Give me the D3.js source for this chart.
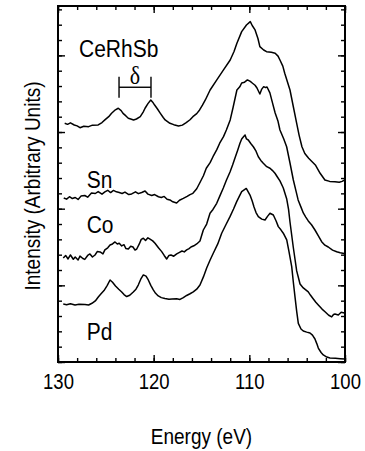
<!DOCTYPE html>
<html>
<head>
<meta charset="utf-8">
<script src="https://cdn.jsdelivr.net/npm/d3@7"></script>
<style>
  body { margin: 0; background: #fff; }
  text { font-family: "Liberation Sans", Arial, Helvetica, sans-serif; fill: #000; }
</style>
</head>
<body>
<div id="graph"></div>
<script>
// spectra: [energy (eV), intensity (arb.)]
const ceRhSb = [[129.3,15.57],[129.0,15.50],[128.7,15.60],[128.3,15.46],[128.0,15.40],[127.7,15.28],[127.3,15.38],[126.8,15.35],[126.4,15.45],[125.8,15.46],[125.4,15.62],[125.1,15.79],[124.7,16.00],[124.4,16.22],[124.0,16.45],[123.7,16.55],[123.4,16.40],[123.2,16.22],[122.9,16.05],[122.65,15.90],[122.4,15.85],[122.1,15.79],[121.8,15.85],[121.4,16.00],[121.1,16.30],[120.9,16.55],[120.6,16.85],[120.3,17.09],[120.1,16.95],[119.9,16.76],[119.6,16.50],[119.3,16.22],[119.0,15.95],[118.8,15.79],[118.3,15.57],[117.9,15.48],[117.4,15.39],[117.0,15.45],[116.6,15.61],[116.2,15.80],[115.9,16.00],[115.5,16.20],[115.2,16.44],[114.9,16.75],[114.6,17.09],[114.1,17.74],[113.4,18.40],[112.7,19.05],[112.0,19.70],[111.6,20.25],[111.3,20.79],[110.8,21.55],[110.3,21.98],[109.9,22.20],[109.7,21.95],[109.4,21.66],[109.1,21.10],[108.9,20.57],[108.5,20.35],[108.2,20.24],[107.7,20.20],[107.3,20.14],[107.0,19.95],[106.8,19.70],[106.5,19.30],[106.3,18.83],[105.75,17.74],[105.4,16.65],[105.05,15.57],[104.8,14.80],[104.5,14.04],[104.2,13.60],[103.8,13.29],[103.1,12.85],[102.6,12.31],[102.1,11.87],[101.6,11.78],[101.05,11.76],[100.6,11.72],[100.3,11.78],[100.07,11.87]];

const sn = [[129.4,10.70],[129.1,10.62],[128.8,10.78],[128.5,10.66],[128.2,10.73],[127.9,10.60],[127.6,10.82],[127.2,10.86],[126.9,10.75],[126.5,11.02],[126.1,10.99],[125.8,11.12],[125.4,10.95],[125.1,11.09],[124.8,11.20],[124.5,11.05],[124.2,11.19],[123.9,11.10],[123.6,11.05],[123.3,10.99],[123.0,11.08],[122.6,10.92],[122.3,10.96],[121.9,11.10],[121.6,10.98],[121.25,11.06],[120.9,11.15],[120.6,10.95],[120.2,10.86],[119.9,10.92],[119.5,10.78],[119.2,10.73],[118.9,10.80],[118.6,10.62],[118.3,10.57],[118.0,10.45],[117.6,10.37],[117.3,10.55],[116.9,10.67],[116.5,10.80],[116.2,10.92],[115.9,11.00],[115.5,11.30],[115.2,11.66],[114.8,12.15],[114.5,12.64],[114.1,13.00],[113.8,13.39],[113.4,13.85],[113.1,14.27],[112.7,14.70],[112.4,15.13],[112.0,15.79],[111.7,16.60],[111.3,17.74],[111.0,17.95],[110.8,18.20],[110.5,18.25],[110.2,18.40],[109.9,18.30],[109.7,18.20],[109.4,18.05],[109.2,17.87],[108.9,17.48],[108.7,17.80],[108.5,17.96],[108.3,17.90],[108.15,17.94],[107.85,17.55],[107.6,16.95],[107.3,16.24],[107.0,15.70],[106.8,15.13],[106.4,14.55],[106.1,14.04],[105.75,12.98],[105.4,11.87],[105.1,11.10],[104.9,10.57],[104.6,10.10],[104.36,9.72],[104.1,9.45],[103.84,9.20],[103.5,8.95],[103.14,8.61],[102.8,8.25],[102.44,7.85],[102.1,7.62],[101.75,7.50],[101.3,7.30],[100.87,7.19],[100.5,7.12],[100.1,7.08]];

const co = [[129.45,6.78],[129.2,6.95],[128.95,6.72],[128.7,6.98],[128.4,6.70],[128.2,6.85],[127.9,6.65],[127.7,6.91],[127.4,6.75],[127.2,6.69],[126.9,6.95],[126.66,7.05],[126.4,6.85],[126.13,6.98],[125.9,7.20],[125.6,7.18],[125.3,7.05],[125.1,7.31],[124.8,7.45],[124.56,7.63],[124.3,7.70],[124.04,7.83],[123.8,7.70],[123.6,7.75],[123.34,7.57],[123.1,7.65],[122.9,7.40],[122.65,7.37],[122.4,7.55],[122.16,7.50],[121.95,7.30],[121.77,7.37],[121.5,7.70],[121.3,8.00],[121.08,8.07],[120.85,7.92],[120.6,8.10],[120.38,8.02],[120.1,7.90],[119.86,7.74],[119.5,7.45],[119.16,7.20],[118.9,6.95],[118.64,6.72],[118.4,6.95],[118.19,6.98],[117.9,6.90],[117.59,7.05],[117.3,7.15],[117.04,7.24],[116.8,7.18],[116.55,7.31],[116.3,7.40],[116.1,7.50],[115.8,7.58],[115.5,7.70],[115.16,7.89],[114.81,8.61],[114.46,9.00],[114.11,9.70],[113.8,9.95],[113.41,10.35],[113.1,10.80],[112.72,11.35],[112.4,11.85],[112.02,12.39],[111.75,12.85],[111.5,13.31],[111.2,13.85],[110.98,14.27],[110.8,14.55],[110.63,14.68],[110.45,14.81],[110.3,14.55],[110.11,14.48],[109.85,14.25],[109.58,14.04],[109.3,13.75],[109.06,13.39],[108.8,13.15],[108.54,12.96],[108.18,12.74],[107.84,12.64],[107.6,12.50],[107.32,12.31],[107.05,12.05],[106.8,11.81],[106.45,11.35],[106.09,10.63],[105.9,9.95],[105.75,9.13],[105.41,7.50],[105.05,5.94],[104.7,5.09],[104.36,4.83],[104.1,4.70],[103.84,4.57],[103.6,4.35],[103.31,4.11],[103.05,3.90],[102.79,3.72],[102.4,3.45],[102.09,3.28],[101.7,3.05],[101.39,2.94],[101.2,3.10],[101.05,3.13],[100.7,3.07],[100.4,3.25],[100.07,3.20]];

const pd = [[129.45,3.78],[129.1,3.74],[128.7,3.80],[128.22,3.72],[127.8,3.76],[127.18,3.75],[126.8,3.72],[126.45,3.83],[126.1,3.98],[125.79,4.24],[125.5,4.45],[125.19,4.66],[124.85,5.00],[124.56,5.35],[124.3,5.20],[123.99,4.96],[123.65,4.75],[123.34,4.57],[123.1,4.40],[122.82,4.27],[122.5,4.35],[122.13,4.57],[121.85,4.75],[121.61,5.02],[121.35,5.40],[121.08,5.68],[120.8,5.60],[120.56,5.35],[120.3,5.00],[120.04,4.70],[119.8,4.48],[119.52,4.31],[119.2,4.20],[118.82,4.14],[118.4,4.10],[118.08,4.11],[117.6,4.12],[117.25,4.08],[116.9,4.20],[116.55,4.34],[116.2,4.45],[115.86,4.57],[115.5,4.75],[115.16,5.02],[114.8,5.55],[114.46,6.13],[114.1,6.65],[113.77,7.09],[113.3,7.70],[112.89,8.40],[112.45,8.95],[112.02,9.48],[111.65,9.98],[111.32,10.46],[111.05,10.80],[110.8,11.11],[110.32,11.32],[109.93,10.89],[109.7,10.50],[109.51,10.11],[109.3,9.75],[109.06,9.48],[108.7,9.32],[108.36,9.26],[108.1,9.50],[107.84,9.70],[107.49,9.59],[107.2,9.20],[106.97,8.83],[106.7,8.62],[106.45,8.40],[106.09,7.96],[105.85,7.18],[105.57,6.22],[105.4,5.20],[105.23,4.26],[105.05,3.30],[104.88,2.52],[104.6,2.15],[104.36,2.02],[104.0,1.95],[103.66,1.89],[103.4,1.75],[103.14,1.50],[102.95,1.20],[102.79,0.91],[102.5,0.62],[102.27,0.46],[101.9,0.32],[101.57,0.26],[101.0,0.24],[100.5,0.22],[100.0,0.20]];

const seriesNames = ["CeRhSb", "Sn", "Co", "Pd"];
const xTickLabels = [130, 120, 110, 100];
const deltaEnds = [123.62, 120.28];   // bracket between the two CeRhSb peaks

const margin = {top: 6, right: 20, bottom: 89, left: 58},
  width = 365 - margin.left - margin.right,
  height = 451 - margin.top - margin.bottom;
const stretch = "scale(1,1.15)";   // lettering in the scan is a bit taller than Arial

const svg = d3.select("#graph").append("svg")
  .attr("width", 365).attr("height", 451)
  .append("g").attr("transform", "translate(" + margin.left + "," + margin.top + ")");

const x = d3.scaleLinear().domain([130, 100]).range([0, width]);
const y = d3.scaleLinear().domain([0, 23.22]).range([height, 0]);

// ticks, all pointing inward
const minorX = d3.range(130, 99, -2), minorY = d3.range(0, 24, 1);
const majorX = xTickLabels, majorY = [0, 5, 10, 15, 20];

svg.append("g").attr("transform", "translate(0," + height + ")")
  .call(d3.axisBottom(x).tickValues(minorX).tickSize(-4).tickFormat(""));
svg.append("g").attr("transform", "translate(0," + height + ")")
  .call(d3.axisBottom(x).tickValues(majorX).tickSize(-7).tickFormat(d3.format("d")))
  .selectAll("text")
    .attr("y", 0).attr("dy", null)
    .attr("transform", "translate(0,27) " + stretch)
    .style("font-size", "18.5px").attr("fill", "#000");
svg.append("g").call(d3.axisTop(x).tickValues(minorX).tickSize(-4).tickFormat(""));
svg.append("g").call(d3.axisTop(x).tickValues(majorX).tickSize(-7).tickFormat(""));
svg.append("g").call(d3.axisLeft(y).tickValues(minorY).tickSize(-4).tickFormat(""));
svg.append("g").call(d3.axisLeft(y).tickValues(majorY).tickSize(-7).tickFormat(""));
svg.append("g").attr("transform", "translate(" + width + ",0)")
  .call(d3.axisRight(y).tickValues(minorY).tickSize(-4).tickFormat(""));
svg.append("g").attr("transform", "translate(" + width + ",0)")
  .call(d3.axisRight(y).tickValues(majorY).tickSize(-7).tickFormat(""));

svg.selectAll(".domain").remove();
svg.selectAll(".tick line").attr("stroke", "#000").attr("stroke-width", 1.4);

svg.append("rect").attr("width", width).attr("height", height)
  .attr("fill", "none").attr("stroke", "#000").attr("stroke-width", 2);

// spectra
const line = d3.line().x(d => x(d[0])).y(d => y(d[1]));
[ceRhSb, sn, co, pd].forEach(s => {
  svg.append("path").datum(s)
    .attr("fill", "none").attr("stroke", "#000").attr("stroke-width", 1.5)
    .attr("stroke-linejoin", "round").attr("d", line);
});

// curve labels
const labelPos = [[127.8, 19.9], [127.0, 11.35], [127.0, 8.41], [127.0, 1.44]];
svg.append("g").selectAll("text").data(seriesNames).join("text")
  .attr("transform", (d, i) => "translate(" + x(labelPos[i][0]) + "," + y(labelPos[i][1]) + ") " + stretch)
  .style("font-size", "21px")
  .text(d => d);

// delta bracket
const yb = 17.92;
svg.append("line").attr("x1", x(deltaEnds[0])).attr("x2", x(deltaEnds[1]))
  .attr("y1", y(yb)).attr("y2", y(yb)).attr("stroke", "#000").attr("stroke-width", 1.4);
deltaEnds.forEach(e => {
  svg.append("line").attr("x1", x(e)).attr("x2", x(e))
    .attr("y1", y(yb + 0.68)).attr("y2", y(yb - 0.68))
    .attr("stroke", "#000").attr("stroke-width", 1.4);
});
svg.append("text")
  .attr("transform", "translate(" + x((deltaEnds[0] + deltaEnds[1]) / 2) + "," + (y(yb) - 3) + ") " + stretch)
  .attr("text-anchor", "middle")
  .style("font-family", "'Liberation Serif', 'DejaVu Serif', serif").style("font-size", "22px")
  .text("δ");

// axis titles
svg.append("text")
  .attr("transform", "translate(" + (width / 2) + "," + (height + 82) + ") " + stretch)
  .attr("text-anchor", "middle").style("font-size", "19px")
  .text("Energy (eV)");
svg.append("text")
  .attr("transform", "translate(" + (-26) + "," + (height / 2 + 2) + ") rotate(-90) " + stretch)
  .attr("text-anchor", "middle").attr("dy", "0.35em").style("font-size", "19px")
  .text("Intensity (Arbitrary Units)");
</script>
</body>
</html>
